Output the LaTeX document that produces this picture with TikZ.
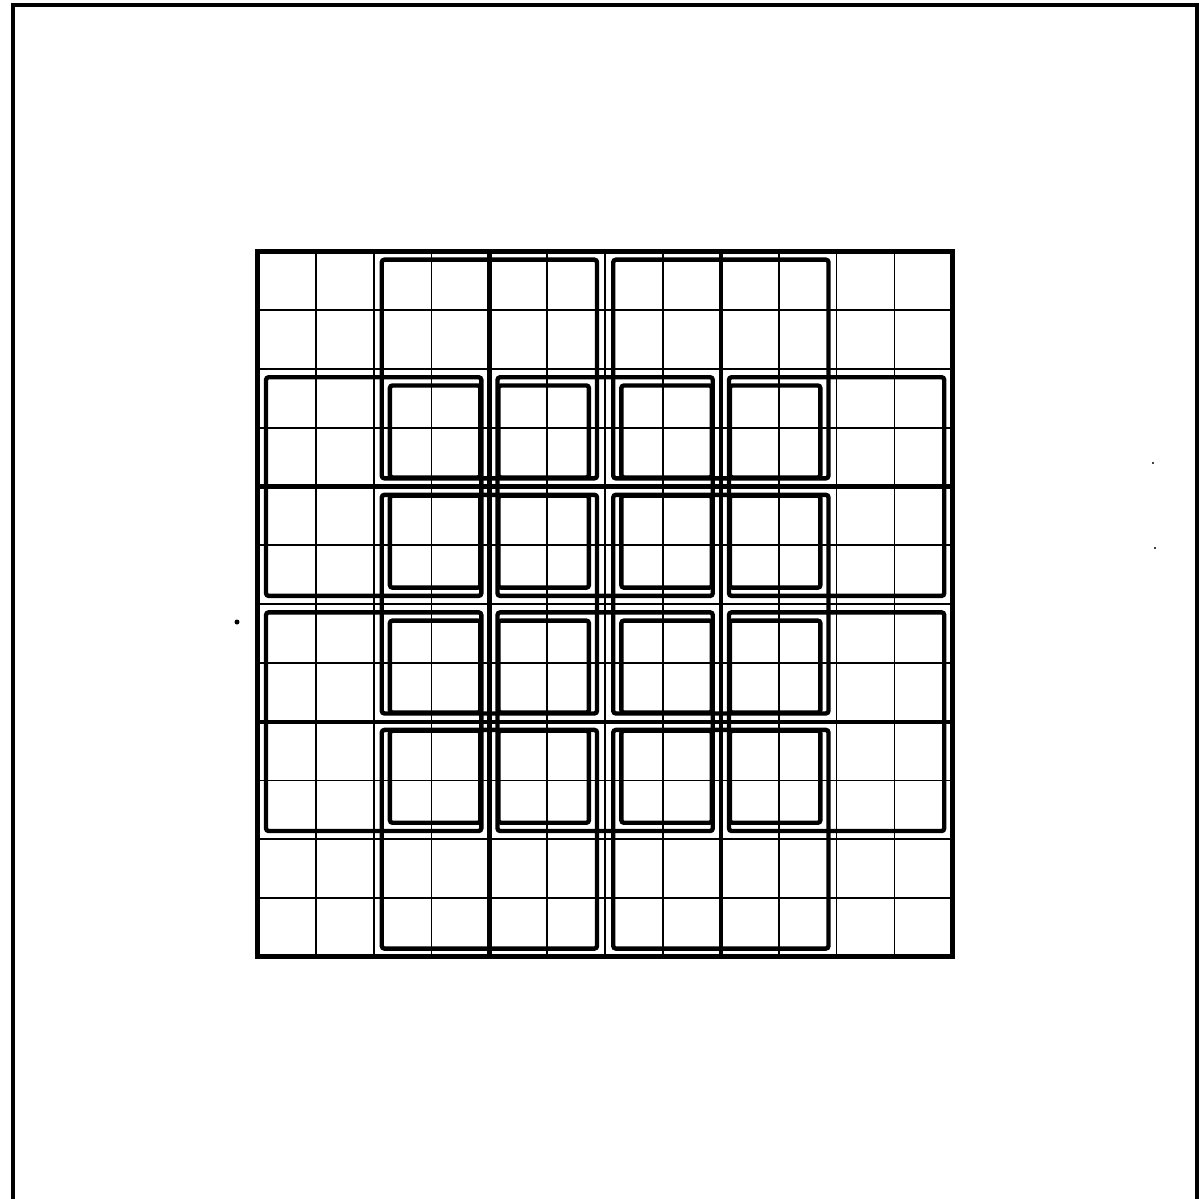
\documentclass[tikz,border=0pt]{standalone}
\begin{document}
\begin{tikzpicture}[x=0.02cm,y=-0.02cm,
  pageframe/.style={line width=1.9pt},
  fineline/.style={line width=1.0pt},
  coarseline/.style={line width=2.4pt},
  outerline/.style={line width=2.9pt},
  domainbox/.style={line width=2.5pt, rounded corners=1.5pt},
  patchbox/.style={line width=2.5pt, rounded corners=1.5pt},
  speck/.style={fill=black}]
\useasboundingbox (0,0) rectangle (1200,1198);
% page frame (bottom edge lies outside the picture)
\draw[pageframe] (13,1210) -- (13,5) -- (1197,5) -- (1197,1210);
% specks of the scan
\fill[speck] (237,622) circle (2.5);
\fill[speck] (1153,463) circle (1.2);
\fill[speck] (1155,548) circle (1.2);
\begin{scope}[xshift=5.16cm, yshift=-5.03cm, x=1.1575cm, y=-1.1758cm]
  % fine grid
  \foreach \i in {1,...,11} {
    \draw[fineline] (\i,0) -- (\i,12);
    \draw[fineline] (0,\i) -- (12,\i);
  }
  % coarse grid lines
  \draw[coarseline] (4,0) -- (4,12) (8,0) -- (8,12) (0,4) -- (12,4) (0,8) -- (12,8);
  % outer square
  \draw[outerline] (0,0) rectangle (12,12);
  % overlapping 4x4 subdomains
  \foreach \a/\b in {2/0,6/0,2/4,6/4,2/8,6/8,0/2,4/2,8/2,0/6,4/6,8/6}
    \draw[domainbox] ({\a+0.14},{\b+0.14}) rectangle ({\a+3.86},{\b+3.86});
  % small 2x2 patches
  \foreach \c/\l/\r in {2/0.28/0.155, 4/0.155/0.28, 6/0.28/0.155, 8/0.155/0.28}
    \foreach \d/\t/\u in {2/0.28/0.155, 4/0.155/0.28, 6/0.28/0.155, 8/0.155/0.28}
      \draw[patchbox] ({\c+\l},{\d+\t}) rectangle ({\c+2-\r},{\d+2-\u});
\end{scope}
\end{tikzpicture}
\end{document}
